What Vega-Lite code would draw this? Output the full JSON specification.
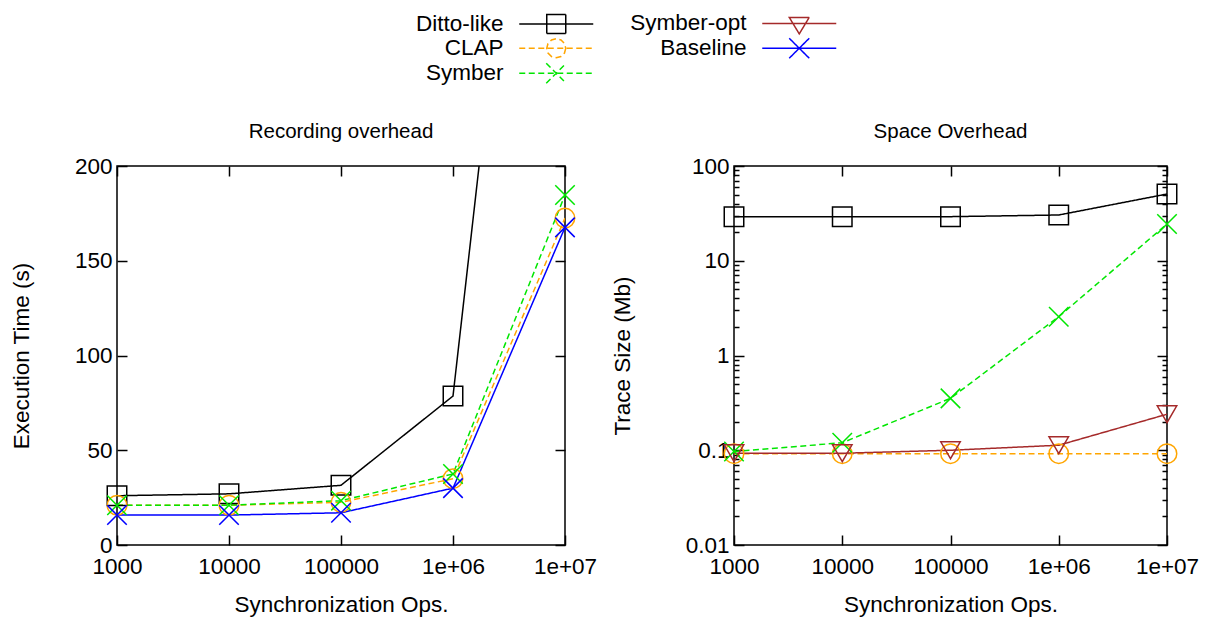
{
  "$schema": "https://vega.github.io/schema/vega-lite/v6.json",
  "background": "white",
  "padding": {"left": 9, "top": 12, "right": 10, "bottom": 5},
  "config": {
    "font": "Liberation Sans",
    "view": {"stroke": "black", "strokeWidth": 1.5},
    "axis": {"domain": false, "grid": false, "tickColor": "black", "tickWidth": 1.5, "tickSize": -10, "labelFontSize": 22.5, "labelColor": "black", "titleFontSize": 22.5, "titleFontWeight": "normal", "titleColor": "black", "labelPadding": 15, "titlePadding": 41, "minExtent": 0},
    "title": {"fontSize": 20.5, "fontWeight": "normal", "offset": 13, "color": "black"}
  },
  "datasets": {
    "d": [
      {"panel": "time", "series": "Ditto-like", "ops": 1000, "value": 26},
      {"panel": "time", "series": "Ditto-like", "ops": 10000, "value": 27},
      {"panel": "time", "series": "Ditto-like", "ops": 100000, "value": 31.5},
      {"panel": "time", "series": "Ditto-like", "ops": 1000000, "value": 78.6},
      {"panel": "time", "series": "Ditto-like", "ops": 10000000, "value": 600},
      {"panel": "time", "series": "CLAP", "ops": 1000, "value": 21},
      {"panel": "time", "series": "CLAP", "ops": 10000, "value": 21},
      {"panel": "time", "series": "CLAP", "ops": 100000, "value": 22.5},
      {"panel": "time", "series": "CLAP", "ops": 1000000, "value": 35},
      {"panel": "time", "series": "CLAP", "ops": 10000000, "value": 172.5},
      {"panel": "time", "series": "Symber", "ops": 1000, "value": 21},
      {"panel": "time", "series": "Symber", "ops": 10000, "value": 21},
      {"panel": "time", "series": "Symber", "ops": 100000, "value": 23.4},
      {"panel": "time", "series": "Symber", "ops": 1000000, "value": 37.5},
      {"panel": "time", "series": "Symber", "ops": 10000000, "value": 184.7},
      {"panel": "time", "series": "Baseline", "ops": 1000, "value": 15.8},
      {"panel": "time", "series": "Baseline", "ops": 10000, "value": 15.8},
      {"panel": "time", "series": "Baseline", "ops": 100000, "value": 17},
      {"panel": "time", "series": "Baseline", "ops": 1000000, "value": 30},
      {"panel": "time", "series": "Baseline", "ops": 10000000, "value": 167.6},
      {"panel": "space", "series": "Ditto-like", "ops": 1000, "value": 29.2},
      {"panel": "space", "series": "Ditto-like", "ops": 10000, "value": 29.2},
      {"panel": "space", "series": "Ditto-like", "ops": 100000, "value": 29.2},
      {"panel": "space", "series": "Ditto-like", "ops": 1000000, "value": 30.4},
      {"panel": "space", "series": "Ditto-like", "ops": 10000000, "value": 50.6},
      {"panel": "space", "series": "CLAP", "ops": 1000, "value": 0.092},
      {"panel": "space", "series": "CLAP", "ops": 10000, "value": 0.092},
      {"panel": "space", "series": "CLAP", "ops": 100000, "value": 0.092},
      {"panel": "space", "series": "CLAP", "ops": 1000000, "value": 0.092},
      {"panel": "space", "series": "CLAP", "ops": 10000000, "value": 0.092},
      {"panel": "space", "series": "Symber", "ops": 1000, "value": 0.097},
      {"panel": "space", "series": "Symber", "ops": 10000, "value": 0.12},
      {"panel": "space", "series": "Symber", "ops": 100000, "value": 0.353},
      {"panel": "space", "series": "Symber", "ops": 1000000, "value": 2.57},
      {"panel": "space", "series": "Symber", "ops": 10000000, "value": 24.4},
      {"panel": "space", "series": "Symber-opt", "ops": 1000, "value": 0.093},
      {"panel": "space", "series": "Symber-opt", "ops": 10000, "value": 0.093},
      {"panel": "space", "series": "Symber-opt", "ops": 100000, "value": 0.1},
      {"panel": "space", "series": "Symber-opt", "ops": 1000000, "value": 0.113},
      {"panel": "space", "series": "Symber-opt", "ops": 10000000, "value": 0.24}
    ]
  },
  "spacing": 12,
  "resolve": {"scale": {"color": "shared", "shape": "shared", "strokeDash": "shared"}},
  "hconcat": [
    {
      "title": "Recording overhead",
      "width": 448,
      "height": 379,
      "data": {"name": "d"},
      "transform": [{"filter": "datum.panel == 'time'"}],
      "layer": [
        {
          "transform": [{"filter": "datum.value <= 200"}],
          "mark": {"type": "point", "filled": false, "opacity": 0, "clip": true},
          "encoding": {
            "x": {"field": "ops", "type": "quantitative", "scale": {"type": "log", "domain": [1000, 10000000], "nice": false}, "axis": null},
            "y": {"field": "value", "type": "quantitative", "scale": {"domain": [0, 200], "nice": false}, "axis": null},
            "color": {"field": "series", "type": "nominal",
              "scale": {"domain": ["Ditto-like", "CLAP", "Symber", "Symber-opt", "Baseline"], "range": ["#000000", "#ffa500", "#00e600", "#a52a2a", "#0000ff"]},
              "legend": {
                "orient": "none", "legendX": 428, "legendY": -154, "columns": 2, "title": null,
                "labelFontSize": 22.5, "labelColor": "black", "labelAlign": "right", "labelOffset": -64,
                "symbolSize": 100, "symbolStrokeWidth": 1.5, "symbolOpacity": 1, "columnPadding": 33, "rowPadding": -4.5}},
            "shape": {"field": "series", "type": "nominal",
              "scale": {"domain": ["Ditto-like", "CLAP", "Symber", "Symber-opt", "Baseline"], "range": ["M-7.4,0H7.4M-1.9,-1.9H1.9V1.9H-1.9Z", "M-7.4,0H7.4M1.9,0L1.65,0.95L0.95,1.65L0,1.9L-0.95,1.65L-1.65,0.95L-1.9,0L-1.65,-0.95L-0.95,-1.65L0,-1.9L0.95,-1.65L1.65,-0.95Z", "M-7.4,0H7.4M-2,-2L2,2M-2,2L2,-2", "M-7.4,0H7.4M-2,-1.2L2,-1.2L0,2.1Z", "M-7.4,0H7.4M-2,-2L2,2M-2,2L2,-2"]}, "legend": null},
            "strokeDash": {"field": "series", "type": "nominal",
              "scale": {"domain": ["Ditto-like", "CLAP", "Symber", "Symber-opt", "Baseline"], "range": [[1, 0], [6, 3.5], [6, 3.5], [1, 0], [1, 0]]}, "legend": null}
          }
        },
        {
          "mark": {"type": "line", "clip": true, "strokeWidth": 1.5},
          "encoding": {
            "x": {"field": "ops", "type": "quantitative", "scale": {"type": "log", "domain": [1000, 10000000], "nice": false},
              "axis": {"orient": "bottom", "values": [1000, 10000, 100000, 1000000, 10000000], "labelExpr": "datum.value == 1000000 ? '1e+06' : datum.value == 10000000 ? '1e+07' : format(datum.value, 'd')", "title": "Synchronization Ops.", "labelPadding": 20, "titlePadding": 16, "labelFlush": false}},
            "y": {"field": "value", "type": "quantitative", "scale": {"domain": [0, 200], "nice": false},
              "axis": {"orient": "left", "values": [0, 50, 100, 150, 200], "title": "Execution Time (s)", "labelFlush": false}},
            "color": {"field": "series", "type": "nominal", "legend": null},
            "strokeDash": {"field": "series", "type": "nominal", "legend": null}
          }
        },
        {
          "transform": [{"filter": "datum.series == 'Ditto-like' && datum.value <= 200"}],
          "mark": {"type": "point", "shape": "square", "filled": false, "size": 380, "strokeWidth": 1.5, "opacity": 1},
          "encoding": {
            "x": {"field": "ops", "type": "quantitative", "scale": {"type": "log", "domain": [1000, 10000000], "nice": false},
              "axis": {"orient": "top", "values": [1000, 10000, 100000, 1000000, 10000000], "labels": false, "title": null}},
            "y": {"field": "value", "type": "quantitative", "scale": {"domain": [0, 200], "nice": false},
              "axis": {"orient": "right", "values": [0, 50, 100, 150, 200], "labels": false, "title": null}},
            "color": {"field": "series", "type": "nominal", "legend": null}
          }
        },
        {
          "transform": [{"filter": "datum.series == 'CLAP'"}],
          "mark": {"type": "point", "shape": "circle", "filled": false, "size": 380, "strokeWidth": 1.5, "opacity": 1},
          "encoding": {
            "x": {"field": "ops", "type": "quantitative", "scale": {"type": "log", "domain": [1000, 10000000], "nice": false}, "axis": null},
            "y": {"field": "value", "type": "quantitative", "scale": {"domain": [0, 200], "nice": false}, "axis": null},
            "color": {"field": "series", "type": "nominal", "legend": null}
          }
        },
        {
          "transform": [{"filter": "datum.series == 'Symber' || datum.series == 'Baseline'"}],
          "mark": {"type": "point", "shape": "M-1,-1L1,1M-1,1L1,-1", "filled": false, "size": 380, "strokeWidth": 1.5, "opacity": 1},
          "encoding": {
            "x": {"field": "ops", "type": "quantitative", "scale": {"type": "log", "domain": [1000, 10000000], "nice": false}, "axis": null},
            "y": {"field": "value", "type": "quantitative", "scale": {"domain": [0, 200], "nice": false}, "axis": null},
            "color": {"field": "series", "type": "nominal", "legend": null}
          }
        }
      ],
      "resolve": {"axis": {"x": "independent", "y": "independent"}}
    },
    {
      "title": "Space Overhead",
      "width": 433,
      "height": 379,
      "data": {"name": "d"},
      "transform": [{"filter": "datum.panel == 'space'"}],
      "layer": [
        {
          "mark": {"type": "line", "strokeWidth": 1.5},
          "encoding": {
            "x": {"field": "ops", "type": "quantitative", "scale": {"type": "log", "domain": [1000, 10000000], "nice": false},
              "axis": {"orient": "bottom", "values": [1000, 10000, 100000, 1000000, 10000000], "labelExpr": "datum.value == 1000000 ? '1e+06' : datum.value == 10000000 ? '1e+07' : format(datum.value, 'd')", "title": "Synchronization Ops.", "labelPadding": 20, "titlePadding": 16, "labelFlush": false}},
            "y": {"field": "value", "type": "quantitative", "scale": {"type": "log", "domain": [0.01, 100], "nice": false},
              "axis": {"orient": "left", "values": [0.01, 0.1, 1, 10, 100], "labelExpr": "'' + datum.value", "title": "Trace Size (Mb)", "labelFlush": false, "labelPadding": 15, "titlePadding": 51}},
            "color": {"field": "series", "type": "nominal", "legend": null},
            "strokeDash": {"field": "series", "type": "nominal", "legend": null}
          }
        },
        {
          "transform": [{"filter": "datum.series == 'Ditto-like'"}],
          "mark": {"type": "point", "shape": "square", "filled": false, "size": 380, "strokeWidth": 1.5, "opacity": 1},
          "encoding": {
            "x": {"field": "ops", "type": "quantitative", "scale": {"type": "log", "domain": [1000, 10000000], "nice": false},
              "axis": {"orient": "top", "values": [1000, 10000, 100000, 1000000, 10000000], "labels": false, "title": null}},
            "y": {"field": "value", "type": "quantitative", "scale": {"type": "log", "domain": [0.01, 100], "nice": false},
              "axis": {"orient": "right", "values": [0.01, 0.1, 1, 10, 100], "labels": false, "title": null}},
            "color": {"field": "series", "type": "nominal", "legend": null}
          }
        },
        {
          "transform": [{"filter": "datum.series == 'CLAP'"}],
          "mark": {"type": "point", "shape": "circle", "filled": false, "size": 380, "strokeWidth": 1.5, "opacity": 1},
          "encoding": {
            "x": {"field": "ops", "type": "quantitative", "scale": {"type": "log", "domain": [1000, 10000000], "nice": false}, "axis": null},
            "y": {"field": "value", "type": "quantitative", "scale": {"type": "log", "domain": [0.01, 100], "nice": false}, "axis": null},
            "color": {"field": "series", "type": "nominal", "legend": null}
          }
        },
        {
          "transform": [{"filter": "datum.series == 'Symber'"}],
          "mark": {"type": "point", "shape": "M-1,-1L1,1M-1,1L1,-1", "filled": false, "size": 380, "strokeWidth": 1.5, "opacity": 1},
          "encoding": {
            "x": {"field": "ops", "type": "quantitative", "scale": {"type": "log", "domain": [1000, 10000000], "nice": false}, "axis": null},
            "y": {"field": "value", "type": "quantitative", "scale": {"type": "log", "domain": [0.01, 100], "nice": false}, "axis": null},
            "color": {"field": "series", "type": "nominal", "legend": null}
          }
        },
        {
          "transform": [{"filter": "datum.series == 'Symber-opt'"}],
          "mark": {"type": "point", "shape": "triangle-down", "filled": false, "size": 380, "strokeWidth": 1.5, "opacity": 1},
          "encoding": {
            "x": {"field": "ops", "type": "quantitative", "scale": {"type": "log", "domain": [1000, 10000000], "nice": false}, "axis": null},
            "y": {"field": "value", "type": "quantitative", "scale": {"type": "log", "domain": [0.01, 100], "nice": false}, "axis": null},
            "color": {"field": "series", "type": "nominal", "legend": null}
          }
        },
        {
          "mark": {"type": "point", "opacity": 0},
          "encoding": {
            "x": {"field": "ops", "type": "quantitative", "scale": {"type": "log", "domain": [1000, 10000000], "nice": false}, "axis": null},
            "y": {"field": "value", "type": "quantitative", "scale": {"type": "log", "domain": [0.01, 100], "nice": false},
              "axis": {"orient": "left", "values": [0.02, 0.03, 0.04, 0.05, 0.06, 0.07, 0.08, 0.09, 0.2, 0.3, 0.4, 0.5, 0.6, 0.7, 0.8, 0.9, 2, 3, 4, 5, 6, 7, 8, 9, 20, 30, 40, 50, 60, 70, 80, 90], "labels": false, "title": null, "tickSize": -5}}
          }
        },
        {
          "mark": {"type": "point", "opacity": 0},
          "encoding": {
            "x": {"field": "ops", "type": "quantitative", "scale": {"type": "log", "domain": [1000, 10000000], "nice": false}, "axis": null},
            "y": {"field": "value", "type": "quantitative", "scale": {"type": "log", "domain": [0.01, 100], "nice": false},
              "axis": {"orient": "right", "values": [0.02, 0.03, 0.04, 0.05, 0.06, 0.07, 0.08, 0.09, 0.2, 0.3, 0.4, 0.5, 0.6, 0.7, 0.8, 0.9, 2, 3, 4, 5, 6, 7, 8, 9, 20, 30, 40, 50, 60, 70, 80, 90], "labels": false, "title": null, "tickSize": -5}}
          }
        }
      ],
      "resolve": {"axis": {"x": "independent", "y": "independent"}}
    }
  ]
}
